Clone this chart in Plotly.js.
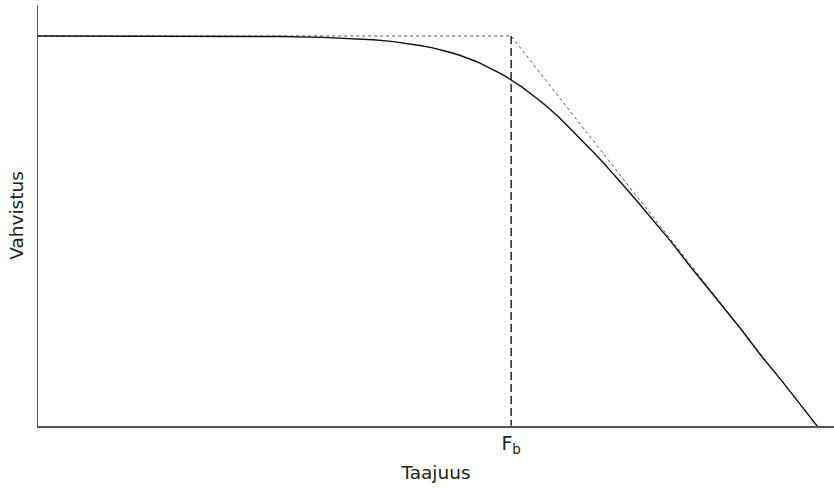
<!DOCTYPE html>
<html>
<head>
<meta charset="utf-8">
<script src="https://cdn.plot.ly/plotly-3.0.1.min.js"></script>
<style>
  html, body { margin: 0; padding: 0; background: #fff; }
  #chart { width: 834px; height: 488px; }
</style>
</head>
<body>
<div id="chart"></div>
<script>
// Frequency relative to the break frequency (f / Fb)
const freqRatio = [0.0086, 0.05, 0.1, 0.15, 0.2, 0.25, 0.3, 0.35, 0.4, 0.45, 0.5, 0.55, 0.6, 0.65, 0.7,
                   0.75, 0.8, 0.85, 0.9, 0.95, 1, 1.05, 1.1, 1.15, 1.2, 1.3, 1.4, 1.5, 1.6, 1.8,
                   2, 2.25, 2.5, 2.75, 3, 3.5, 4, 4.5, 5, 6, 7, 8.5, 10, 12.5, 15, 20, 26];
// Measured response, dB
const gainDb = [0, -0.01, -0.04, -0.1, -0.17, -0.26, -0.37, -0.5, -0.65, -0.8, -0.97, -1.15, -1.34, -1.53, -1.73,
                -1.94, -2.15, -2.36, -2.58, -2.79, -3.0, -3.22, -3.43, -3.66, -3.87, -4.3, -4.7, -5.1, -5.5, -6.3,
                -7.0, -7.85, -8.6, -9.3, -10.0, -11.2, -12.3, -13.3, -14.1, -15.7, -17.0, -18.7, -20.0, -22.0, -23.5, -26.0, -28.3];

// Straight-line (asymptotic) approximation
const asymFreq = [0.0086, 1, 26];
const asymGain = [0, 0, -28.3];

// Break frequency marker
const breakFreq = [1, 1];
const breakGain = [0, -26.7];

const tickVals = [1];
const tickText = ['F<sub>b</sub>'];

const traces = [
  {
    x: asymFreq, y: asymGain, type: 'scatter', mode: 'lines',
    line: { color: '#555', width: 1, dash: 'dot' },
    hoverinfo: 'skip', showlegend: false
  },
  {
    x: breakFreq, y: breakGain, type: 'scatter', mode: 'lines',
    line: { color: '#222', width: 1.5, dash: '8px,4px' },
    hoverinfo: 'skip', showlegend: false
  },
  {
    x: freqRatio, y: gainDb, type: 'scatter', mode: 'lines',
    line: { color: '#111', width: 1.4, shape: 'linear' },
    showlegend: false
  }
];

const layout = {
  width: 834, height: 488,
  margin: { l: 38, r: 0, t: 5, b: 62 },
  paper_bgcolor: '#fff', plot_bgcolor: '#fff',
  font: { family: 'DejaVu Sans, sans-serif', color: '#222' },
  xaxis: {
    type: 'log',
    range: [-2.066, 1.41],
    showgrid: false, zeroline: false,
    showline: true, linecolor: '#555', linewidth: 1.5,
    ticks: '',
    tickvals: tickVals, ticktext: tickText,
    tickfont: { size: 19, color: '#222' },
    title: { text: 'Taajuus', font: { size: 18.5, color: '#222' }, standoff: 10 }
  },
  yaxis: {
    range: [-26.71, 2.12],
    showgrid: false, zeroline: false,
    showline: true, linecolor: '#555', linewidth: 1.5,
    ticks: '', showticklabels: false,
    title: { text: 'Vahvistus', font: { size: 18.5, color: '#222' }, standoff: 8 }
  }
};

Plotly.newPlot('chart', traces, layout, { displayModeBar: false, staticPlot: true });
</script>
</body>
</html>
